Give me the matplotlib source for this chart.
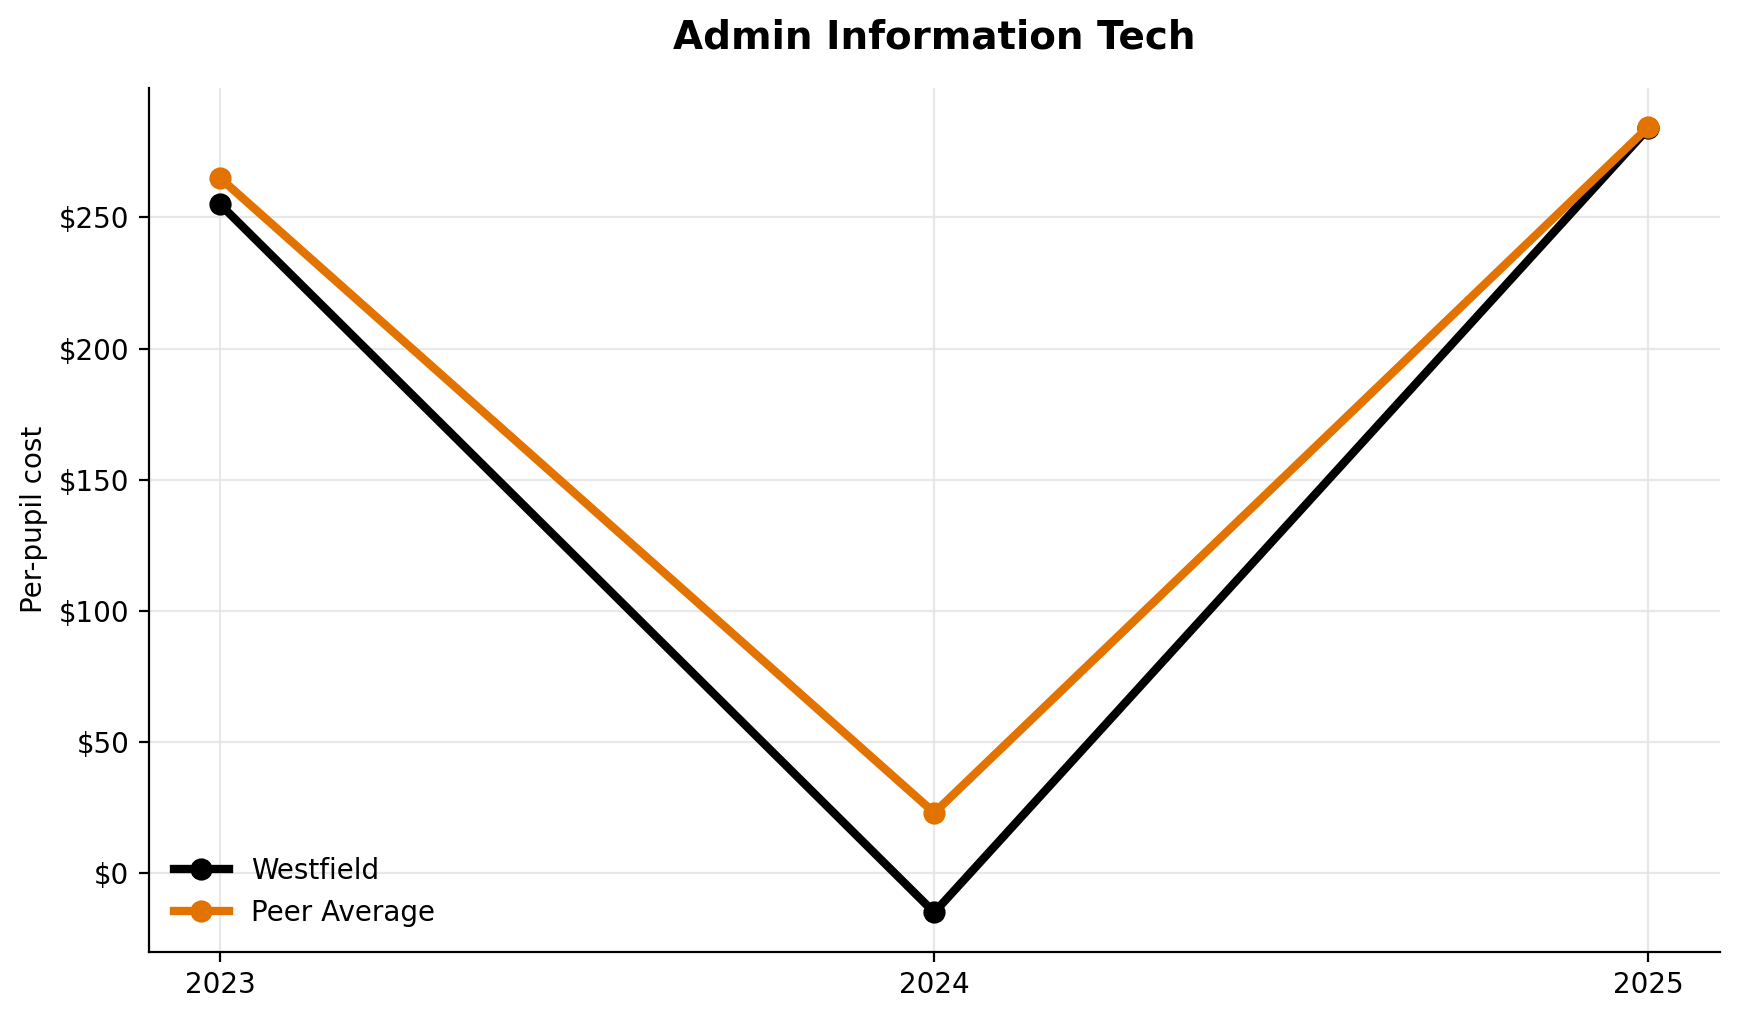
import matplotlib
matplotlib.use("Agg")
import matplotlib.pyplot as plt
from matplotlib.ticker import FuncFormatter

years = [2023, 2024, 2025]
westfield = [255, -15, 284]
peer_average = [265, 23, 284.5]

fig, ax = plt.subplots(figsize=(8.695, 5.095), dpi=200)
fig.subplots_adjust(left=0.0855, right=0.989, top=0.914, bottom=0.066)

ax.plot(years, westfield, color="black", lw=3, marker="o", ms=7, label="Westfield")
ax.plot(years, peer_average, color="#E37300", lw=3, marker="o", ms=7, label="Peer Average")

ax.set_xticks(years)
ax.set_xticklabels([str(y) for y in years])
ax.yaxis.set_major_formatter(FuncFormatter(lambda v, p: f"${v:,.0f}" if v >= 0 else f"-${-v:,.0f}"))
ax.set_ylabel("Per-pupil cost", fontsize=10)
ax.set_title("Admin Information Tech", fontsize=14, fontweight="bold", pad=14)
ax.tick_params(labelsize=10)
ax.grid(True, color="#e3e3e3", lw=0.8, alpha=0.8)
ax.spines["top"].set_visible(False)
ax.spines["right"].set_visible(False)
ax.legend(loc="lower left", frameon=False, fontsize=10)

fig.savefig("out.png", dpi=200)
